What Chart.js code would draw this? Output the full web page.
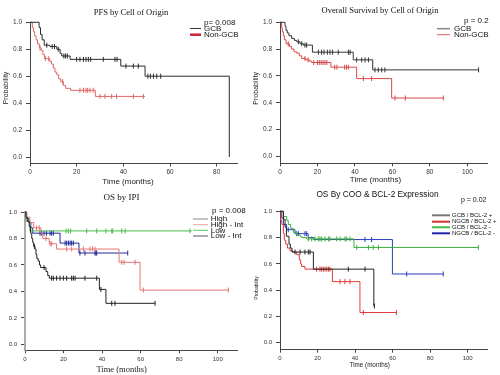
<!DOCTYPE html>
<html>
<head>
<meta charset="utf-8">
<script src="https://cdn.jsdelivr.net/npm/chart.js@4/dist/chart.umd.min.js"></script>
<style>
html,body{margin:0;padding:0;background:#fff;width:500px;height:375px;overflow:hidden;}
canvas{position:absolute;}
</style>
</head>
<body>
<canvas id="c1" width="250" height="188" style="left:0;top:0"></canvas>
<canvas id="c2" width="250" height="188" style="left:250px;top:0"></canvas>
<canvas id="c3" width="250" height="187" style="left:0;top:188px"></canvas>
<canvas id="c4" width="250" height="187" style="left:250px;top:188px"></canvas>
<script>
// ---------------- DATA ----------------
const yTicks = [0, 0.2, 0.4, 0.6, 0.8, 1.0];
const xTicks80 = [0, 20, 40, 60, 80];
const xTicks100 = [0, 20, 40, 60, 80, 100];

// Panel 1: PFS by Cell of Origin
const pfsTitle = 'PFS by Cell of Origin';
const pfsP = 'p= 0.008';
const pfsLabels = ['GCB', 'Non-GCB'];
const pfsGcbTimes = [3.9, 4.5, 5.2, 6.1, 8.5, 11.5, 12.9, 13.6, 17.2, 38.9, 49.3, 85.4];
const pfsGcbSurv  = [0.96, 0.91, 0.87, 0.83, 0.82, 0.80, 0.77, 0.75, 0.725, 0.675, 0.60, 0.0];
const pfsGcbCens  = [7.2, 9.5, 10.5, 12.1, 14.5, 15.2, 16, 20, 21.4, 22.9, 24, 25, 26, 31.4, 36.4, 37.3, 41.1, 44.3, 46.4, 50.5, 51.6, 52.9, 54.3, 56];
const pfsGcbEnd = 85.4;
const pfsNonTimes = [1.0, 1.5, 2.0, 2.6, 3.2, 4.0, 4.8, 5.5, 6.3, 8.5, 9.2, 10.0, 10.7, 11.5, 12.3, 13.2, 14.3, 15.3, 17.4, 28.0];
const pfsNonSurv  = [0.96, 0.93, 0.90, 0.87, 0.84, 0.81, 0.79, 0.76, 0.73, 0.71, 0.69, 0.66, 0.63, 0.61, 0.58, 0.56, 0.53, 0.51, 0.495, 0.45];
const pfsNonCens  = [4.3, 6.6, 8.0, 14.0, 21.4, 22.9, 24.0, 24.7, 25.7, 27.1, 30.0, 32.1, 35.0, 37.1, 44.3, 48.6];
const pfsNonEnd = 49.3;

// Panel 2: Overall Survival by Cell of Origin
const osTitle = 'Overall Survival by Cell of Origin';
const osP = 'p = 0.2';
const osLabels = ['GCB', 'Non-GCB'];
const osGcbTimes = [2.7, 3.2, 3.9, 4.8, 6.2, 7.7, 8.9, 10.7, 12.5, 17.3, 39.1, 49.5];
const osGcbSurv  = [0.97, 0.94, 0.92, 0.90, 0.88, 0.865, 0.855, 0.84, 0.83, 0.777, 0.72, 0.645];
const osGcbCens  = [9.8, 11.6, 13.3, 14.2, 20.5, 22.2, 23.5, 25.3, 26.7, 28.1, 31.1, 36.5, 37.4, 40.9, 43.6, 45.4, 47.2, 50.7, 52.5, 54.3, 56, 106];
const osGcbEnd = 106;
const osNonTimes = [0.9, 1.2, 1.8, 2.3, 3.2, 5.0, 6.2, 7.5, 8.9, 10.3, 11.6, 13.9, 15.7, 16.9, 27.2, 40.9, 59.6];
const osNonSurv  = [0.96, 0.93, 0.90, 0.87, 0.84, 0.82, 0.80, 0.78, 0.77, 0.75, 0.73, 0.72, 0.71, 0.70, 0.665, 0.58, 0.435];
const osNonCens  = [4.4, 13.3, 15.0, 18.0, 20.0, 21.0, 22.0, 23.0, 24.0, 25.0, 29.2, 30.4, 34.5, 35.5, 36.5, 44.5, 48.9, 61.4, 66.9, 87.2];
const osNonEnd = 87.2;

// Panel 3: OS by IPI
const ipiTitle = 'OS by IPI';
const ipiP = 'p = 0.008';
const ipiLabels = ['High', 'High - Int', 'Low', 'Low - Int'];
const ipiHighTimes = [0.5, 1.2, 2.2, 2.9, 3.5, 4.0, 4.5, 5.2, 5.7, 6.1, 6.8, 7.5, 8.1, 10.9, 11.8, 12.6, 38.6, 42.0];
const ipiHighSurv  = [0.96, 0.93, 0.89, 0.84, 0.80, 0.77, 0.74, 0.72, 0.68, 0.65, 0.63, 0.60, 0.58, 0.55, 0.52, 0.50, 0.415, 0.31];
const ipiHighCens  = [4.9, 9.9, 13.8, 14.7, 16.4, 18.2, 19.9, 21.6, 24.2, 25.1, 26.0, 31.1, 37.2, 39.4, 45.0, 46.7, 67.5];
const ipiHighEnd = 67.5;
const ipiHiIntTimes = [0.9, 2.5, 4.5, 8.3, 9.2, 12.6, 16.4, 48.8, 59.7];
const ipiHiIntSurv  = [0.96, 0.92, 0.88, 0.84, 0.80, 0.76, 0.72, 0.62, 0.41];
const ipiHiIntCens  = [6.0, 7.4, 10.9, 13.0, 13.8, 21.6, 24.2, 30.3, 33.7, 35.1, 36.3, 50.2, 51.4, 57.1, 61.4, 105.5];
const ipiHiIntEnd = 105.5;
const ipiLowTimes = [0.5, 2.5];
const ipiLowSurv  = [0.93, 0.857];
const ipiLowCens  = [21.3, 22.5, 23.7, 32.0, 37.2, 42.0, 45.0, 45.5, 50.2, 52.0, 85.6];
const ipiLowEnd = 86.5;
const ipiLoIntTimes = [0.8, 2.0, 3.0, 4.0, 18.2, 28.0];
const ipiLoIntSurv  = [0.95, 0.92, 0.88, 0.84, 0.765, 0.69];
const ipiLoIntCens  = [7.8, 8.7, 9.9, 11.2, 13.0, 13.8, 14.7, 20.8, 21.6, 22.5, 23.4, 24.2, 25.1, 28.5, 31.1, 36.3, 36.8, 37.2, 53.3];
const ipiLoIntEnd = 53.3;

// Panel 4: OS By COO & BCL-2 Expression
const bclTitle = 'OS By COO & BCL-2 Expression';
const bclP = 'p = 0.02';
const bclLabels = ['GCB / BCL-2 +', 'NGCB / BCL-2 +', 'GCB / BCL-2 -', 'NGCB / BCL-2 -'];
const bGcbPosTimes = [1.8, 2.7, 3.4, 4.8, 5.5, 6.4, 17.8, 50.0];
const bGcbPosSurv  = [0.94, 0.88, 0.81, 0.75, 0.72, 0.69, 0.56, 0.28];
const bGcbPosCens  = [8.0, 10.7, 13.3, 15.1, 16.0, 36.4, 45.3, 50.3];
const bGcbPosEnd = 50.3;
const bNgcbPosTimes = [0.5, 1.0, 1.8, 2.3, 3.0, 4.0, 5.3, 6.7, 8.9, 10.3, 11.0, 11.5, 13.3, 27.9, 42.6];
const bNgcbPosSurv  = [0.93, 0.90, 0.83, 0.78, 0.75, 0.72, 0.70, 0.69, 0.67, 0.63, 0.60, 0.58, 0.56, 0.465, 0.23];
const bNgcbPosCens  = [19.5, 21.3, 22.2, 23.1, 24.0, 24.9, 25.8, 26.6, 32.0, 34.6, 37.3, 44.4, 62.0];
const bNgcbPosEnd = 62;
const bGcbNegTimes = [1.8, 3.6, 4.4, 5.7, 7.1, 8.9, 10.7, 11.5, 14.2, 39.4];
const bGcbNegSurv  = [0.96, 0.93, 0.90, 0.87, 0.84, 0.82, 0.81, 0.80, 0.79, 0.725];
const bGcbNegCens  = [15.1, 16.9, 18.6, 20.4, 21.3, 22.2, 24.0, 25.8, 26.6, 30.2, 32.0, 34.6, 35.5, 37.3, 40.9, 47.1, 49.7, 52.4, 105.7];
const bGcbNegEnd = 105.7;
const bNgcbNegTimes = [0.9, 1.8, 3.5, 8.0, 15.0, 18.0, 59.9];
const bNgcbNegSurv  = [0.95, 0.90, 0.86, 0.83, 0.80, 0.785, 0.523];
const bNgcbNegCens  = [4.4, 8.9, 9.8, 13.3, 14.2, 45.3, 48.8, 67.5, 87.0];
const bNgcbNegEnd = 87;

// ---------------- helpers ----------------
function kmPoints(times, surv, end) {
  const pts = [{x: 0, y: 1}];
  times.forEach((t, i) => pts.push({x: t, y: surv[i]}));
  const last = times[times.length - 1];
  if (end > last) pts.push({x: end, y: surv[surv.length - 1]});
  return pts;
}
function stepValue(times, surv, t) {
  let v = 1;
  for (let i = 0; i < times.length; i++) { if (times[i] <= t) v = surv[i]; }
  return v;
}
function censPoints(times, surv, cens) {
  return cens.map(c => ({x: c, y: stepValue(times, surv, c)}));
}
function curve(times, surv, cens, end, color) {
  return [
    {data: kmPoints(times, surv, end), borderColor: color, borderWidth: 1, stepped: 'before',
     pointRadius: 0, fill: false, clip: false},
    {data: censPoints(times, surv, cens), showLine: false, pointStyle: 'line', rotation: 90,
     pointRadius: 2.5, pointBorderWidth: 1, pointBorderColor: color, borderColor: color, clip: false}
  ];
}

const SANS = '"Liberation Sans", Arial, sans-serif';
const SERIF = '"Liberation Serif", "Times New Roman", serif';

const TEXT = {};

const panelText = {
  id: 'panelText',
  afterDraw(chart) {
    const spec = TEXT[chart.canvas.id];
    if (!spec) return;
    const ctx = chart.ctx;
    spec.items.forEach(it => {
      ctx.save();
      ctx.font = it.font; ctx.fillStyle = it.color || '#111';
      ctx.textAlign = it.align || 'center'; ctx.textBaseline = 'middle';
      ctx.translate(it.x, it.y);
      if (it.rot) ctx.rotate(it.rot);
      ctx.fillText(it.text, 0, 0);
      ctx.restore();
    });
    spec.legend.forEach(l => {
      ctx.save();
      ctx.strokeStyle = l.color; ctx.lineWidth = l.width;
      ctx.beginPath(); ctx.moveTo(l.x1, l.y); ctx.lineTo(l.x2, l.y); ctx.stroke();
      ctx.font = l.font; ctx.fillStyle = '#111'; ctx.textAlign = 'left'; ctx.textBaseline = 'middle';
      ctx.fillText(l.text, l.tx, l.y);
      ctx.restore();
    });
  }
};

function makeChart(id, cfg) {
  const el = document.getElementById(id);
  const W = el.width, H = el.height;
  const a = cfg.area;
  return new Chart(el, {
    type: 'line',
    data: {datasets: cfg.datasets},
    options: {
      responsive: false, animation: false, events: [],
      layout: {padding: {top: a.top, right: W - a.right, left: 0, bottom: 0}},
      plugins: {legend: {display: false}, tooltip: {enabled: false}, title: {display: false}},
      scales: {
        x: {
          type: 'linear', min: 0, max: cfg.xMax,
          afterFit: s => { s.height = H - a.bottom; },
          afterBuildTicks: s => { s.ticks = cfg.xTicks.map(v => ({value: v})); },
          grid: {drawOnChartArea: false, drawTicks: true, tickLength: 3, color: cfg.axisColor},
          border: {display: true, color: cfg.axisColor, width: 1},
          ticks: {font: {family: SANS, size: cfg.tickSize}, color: '#333', padding: cfg.xPad,
                  maxRotation: 0, autoSkip: false, callback: v => String(v)}
        },
        y: {
          type: 'linear', min: cfg.yMin, max: 1.0,
          afterFit: s => { s.width = a.left; },
          afterBuildTicks: s => { s.ticks = yTicks.map(v => ({value: v})); },
          grid: {drawOnChartArea: false, drawTicks: true, tickLength: 4, color: cfg.axisColor},
          border: {display: true, color: cfg.yAxisColor || cfg.axisColor, width: cfg.yAxisWidth || 1},
          ticks: {font: {family: SANS, size: cfg.tickSize}, color: '#333', padding: cfg.yPad,
                  autoSkip: false, callback: v => Number(v).toFixed(1)}
        }
      }
    },
    plugins: [panelText]
  });
}

// ---------------- Panel 1 ----------------
TEXT.c1 = {
  items: [
    {text: pfsTitle, x: 131, y: 12.7, font: '8.5px ' + SERIF},
    {text: 'Time (months)', x: 128, y: 182, font: '8px ' + SANS, color: '#222'},
    {text: 'Probability', x: 6.5, y: 88, rot: -Math.PI / 2, font: '7px ' + SANS, color: '#222'},
    {text: pfsP, x: 204, y: 22.3, font: '8px ' + SANS, align: 'left'}
  ],
  legend: [
    {text: pfsLabels[0], color: '#333', width: 1, x1: 190, x2: 201, tx: 204, y: 28.5, font: '8px ' + SANS},
    {text: pfsLabels[1], color: '#d0203a', width: 2.5, x1: 190, x2: 201, tx: 204, y: 34.7, font: '8px ' + SANS}
  ]
};
makeChart('c1', {
  area: {left: 30, right: 237, top: 22.3, bottom: 163.5},
  xMax: 88.7, yMin: -0.048, xTicks: xTicks80, tickSize: 6.5, xPad: 2, yPad: 4, axisColor: '#444',
  datasets: [
    ...curve(pfsGcbTimes, pfsGcbSurv, pfsGcbCens, pfsGcbEnd, '#2a2a2a'),
    ...curve(pfsNonTimes, pfsNonSurv, pfsNonCens, pfsNonEnd, '#e06666')
  ]
});

// ---------------- Panel 2 ----------------
TEXT.c2 = {
  items: [
    {text: osTitle, x: 130, y: 10.7, font: '8.5px ' + SERIF},
    {text: 'Time (months)', x: 125.5, y: 180, font: '8px ' + SANS, color: '#222'},
    {text: 'Probability', x: 6.5, y: 88.3, rot: -Math.PI / 2, font: '7px ' + SANS, color: '#222'},
    {text: osP, x: 214, y: 20.7, font: '8px ' + SANS, align: 'left'}
  ],
  legend: [
    {text: osLabels[0], color: '#888', width: 1.5, x1: 187, x2: 200, tx: 204, y: 28.7, font: '8px ' + SANS},
    {text: osLabels[1], color: '#e06060', width: 1, x1: 187, x2: 200, tx: 204, y: 34.7, font: '8px ' + SANS}
  ]
};
makeChart('c2', {
  area: {left: 30, right: 237, top: 22.3, bottom: 163.3},
  xMax: 110.5, yMin: -0.052, xTicks: xTicks100, tickSize: 6.5, xPad: 2, yPad: 4, axisColor: '#444',
  datasets: [
    ...curve(osGcbTimes, osGcbSurv, osGcbCens, osGcbEnd, '#333333'),
    ...curve(osNonTimes, osNonSurv, osNonCens, osNonEnd, '#d94a4a')
  ]
});

// ---------------- Panel 3 ----------------
TEXT.c3 = {
  items: [
    {text: ipiTitle, x: 121.5, y: 10, font: '9px ' + SERIF},
    {text: 'Time (months)', x: 121.7, y: 181.7, font: '8.5px ' + SERIF, color: '#222'},
    {text: ipiP, x: 212, y: 22.3, font: '8px ' + SANS, align: 'left'}
  ],
  legend: [
    {text: ipiLabels[0], color: '#888', width: 1, x1: 193, x2: 208, tx: 210.7, y: 31, font: '8px ' + SANS},
    {text: ipiLabels[1], color: '#f0a0a0', width: 1, x1: 193, x2: 208, tx: 210.7, y: 36.7, font: '8px ' + SANS},
    {text: ipiLabels[2], color: '#55cc55', width: 1, x1: 193, x2: 208, tx: 210.7, y: 42.3, font: '8px ' + SANS},
    {text: ipiLabels[3], color: '#556', width: 1, x1: 193, x2: 208, tx: 210.7, y: 48, font: '8px ' + SANS}
  ]
};
makeChart('c3', {
  area: {left: 25, right: 237, top: 24, bottom: 162.3},
  xMax: 110, yMin: -0.045, xTicks: xTicks100, tickSize: 6, xPad: 2, yPad: 4, axisColor: '#444',
  yAxisColor: '#aaa', yAxisWidth: 2,
  datasets: [
    ...curve(ipiHighTimes, ipiHighSurv, ipiHighCens, ipiHighEnd, '#222222'),
    ...curve(ipiHiIntTimes, ipiHiIntSurv, ipiHiIntCens, ipiHiIntEnd, '#e57373'),
    ...curve(ipiLowTimes, ipiLowSurv, ipiLowCens, ipiLowEnd, '#4cbb4c'),
    ...curve(ipiLoIntTimes, ipiLoIntSurv, ipiLoIntCens, ipiLoIntEnd, '#1f2a99')
  ]
});

// ---------------- Panel 4 ----------------
TEXT.c4 = {
  items: [
    {text: bclTitle, x: 127.5, y: 6.7, font: '8.3px ' + SANS},
    {text: 'Time (months)', x: 119.7, y: 177.3, font: '6.3px ' + SANS, color: '#222'},
    {text: 'Probability', x: 6.7, y: 100, rot: -Math.PI / 2, font: '5px ' + SANS, color: '#222'},
    {text: bclP, x: 211, y: 11.7, font: '7px ' + SANS, align: 'left'}
  ],
  legend: [
    {text: bclLabels[0], color: '#777', width: 2, x1: 182, x2: 200, tx: 202, y: 27.3, font: '6px ' + SANS},
    {text: bclLabels[1], color: '#d33333', width: 2, x1: 182, x2: 200, tx: 202, y: 33.7, font: '6px ' + SANS},
    {text: bclLabels[2], color: '#44bb44', width: 2, x1: 182, x2: 200, tx: 202, y: 39.3, font: '6px ' + SANS},
    {text: bclLabels[3], color: '#2222aa', width: 2, x1: 182, x2: 200, tx: 202, y: 45.3, font: '6px ' + SANS}
  ]
};
makeChart('c4', {
  area: {left: 30, right: 237, top: 23.3, bottom: 161.7},
  xMax: 110.3, yMin: -0.053, xTicks: xTicks100, tickSize: 6, xPad: 2, yPad: 4, axisColor: '#444',
  datasets: [
    ...curve(bGcbPosTimes, bGcbPosSurv, bGcbPosCens, bGcbPosEnd, '#222222'),
    ...curve(bNgcbPosTimes, bNgcbPosSurv, bNgcbPosCens, bNgcbPosEnd, '#e03c3c'),
    ...curve(bGcbNegTimes, bGcbNegSurv, bGcbNegCens, bGcbNegEnd, '#3cb03c'),
    ...curve(bNgcbNegTimes, bNgcbNegSurv, bNgcbNegCens, bNgcbNegEnd, '#2a3cc0')
  ]
});
</script>
</body>
</html>
